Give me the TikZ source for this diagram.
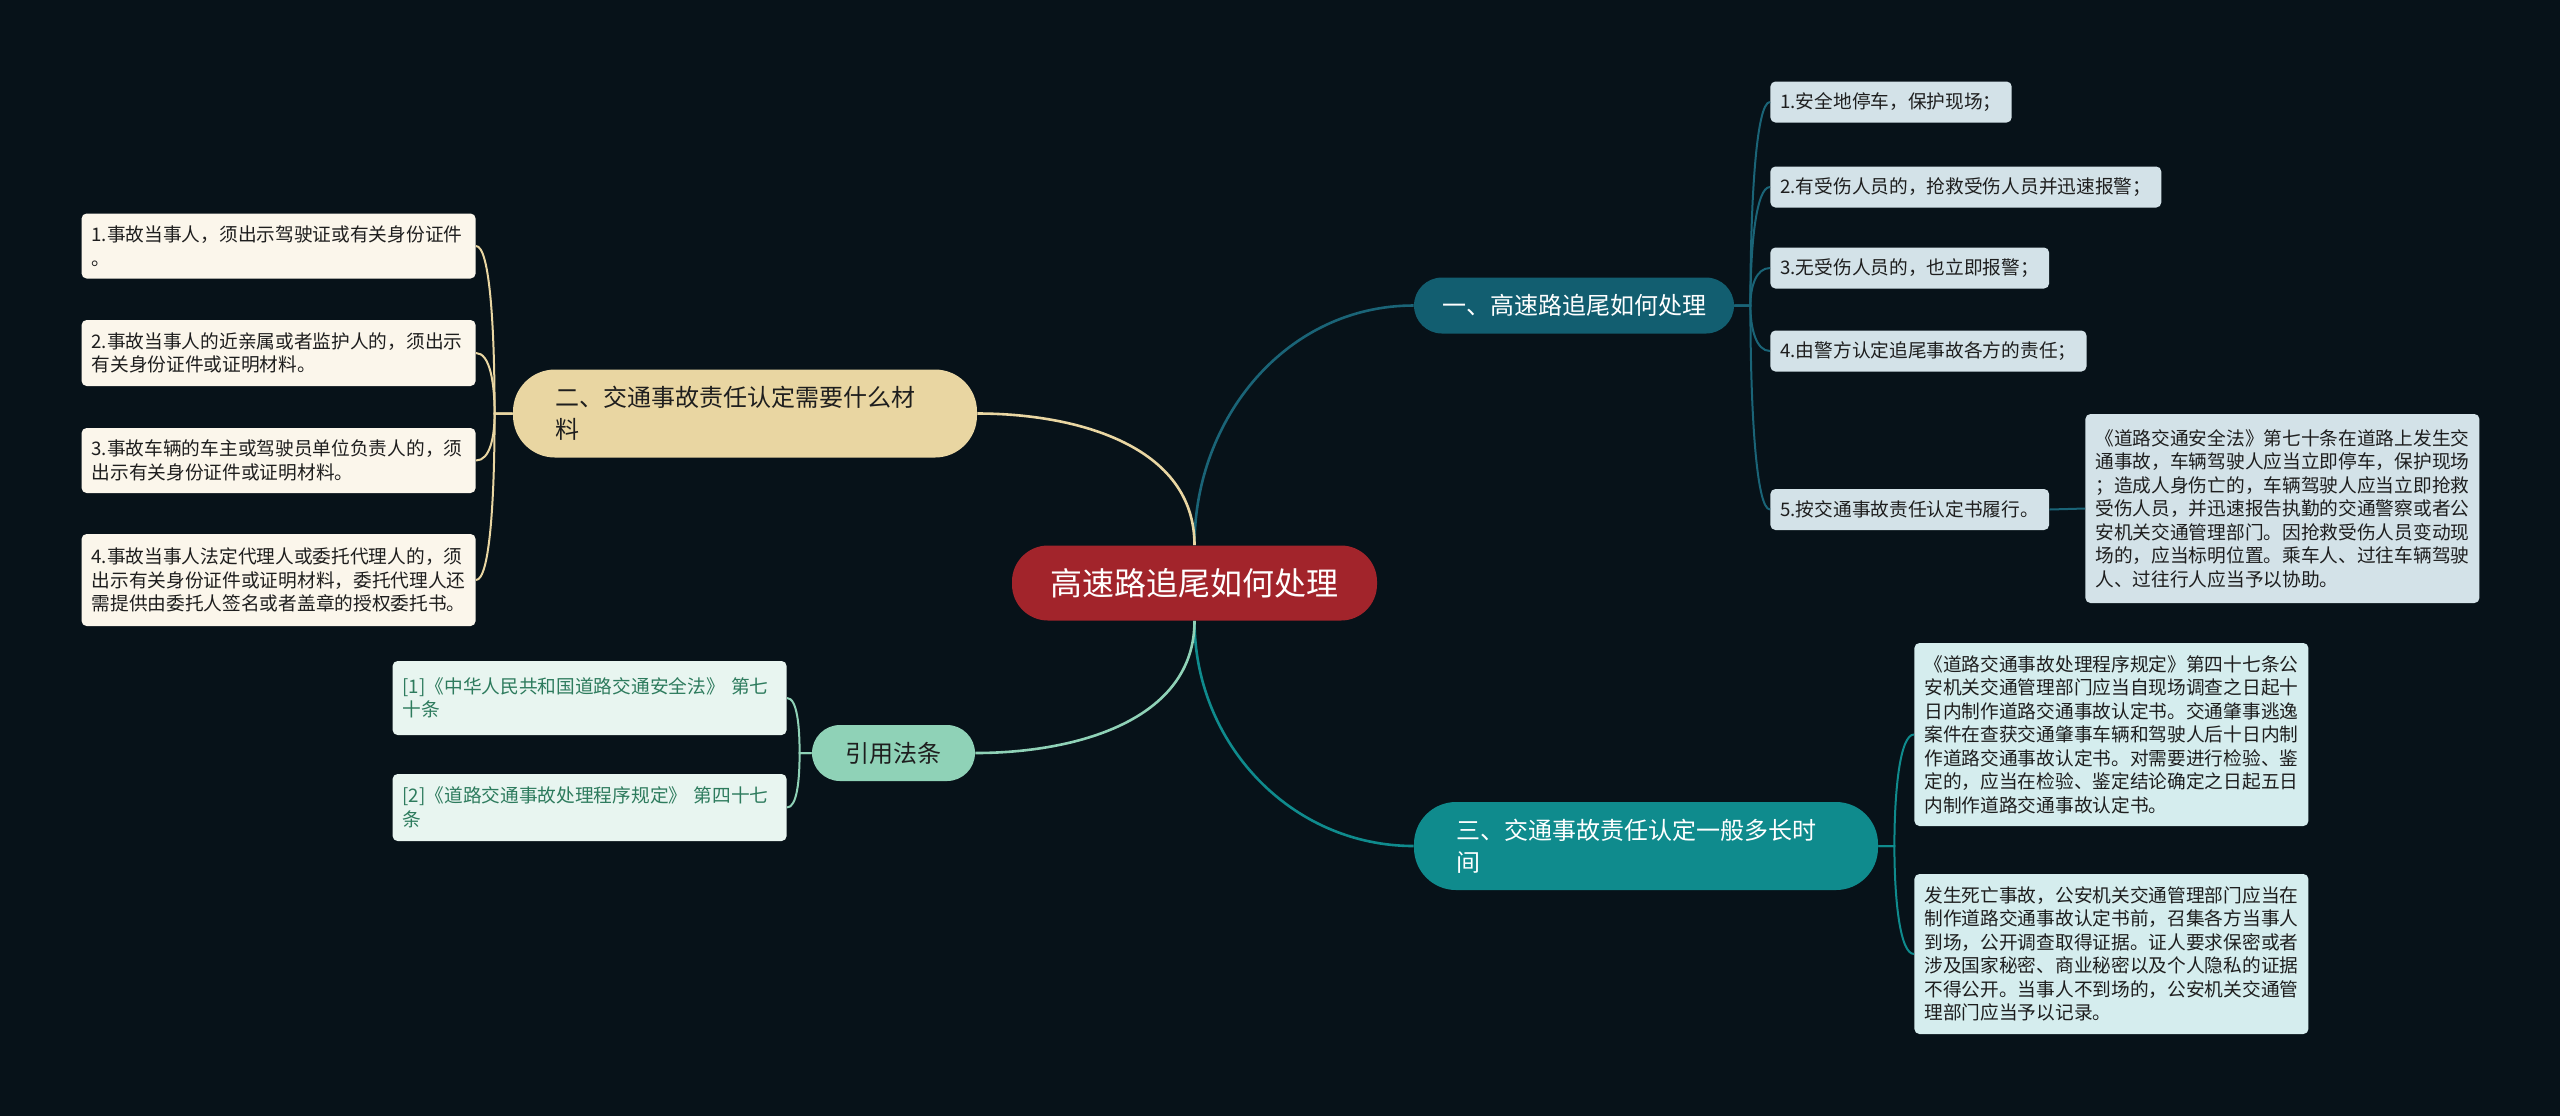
\documentclass[tikz,border=0pt]{standalone}
\usepackage{fontspec}
\setmainfont{Noto Sans CJK SC}
\usepackage{tikz}
\usepackage{xcolor}
\usetikzlibrary{calc}

\definecolor{bgc}{HTML}{071219}
\definecolor{rootc}{HTML}{A2242B}
\definecolor{c1}{HTML}{125E70}
\definecolor{c1e}{HTML}{1A6477}
\definecolor{c1l}{HTML}{D3E2E8}
\definecolor{c2}{HTML}{E9D6A2}
\definecolor{c2l}{HTML}{FBF6EB}
\definecolor{c3}{HTML}{0F8B8D}
\definecolor{c3l}{HTML}{D5EDEE}
\definecolor{c4}{HTML}{8FD2B7}
\definecolor{c4l}{HTML}{E8F5F0}
\definecolor{c4t}{HTML}{2D7B5D}
\definecolor{tx}{HTML}{1E1E1E}

\begin{document}
\begin{tikzpicture}[
  x=0.5pt, y=-0.5pt,
  topic/.style={rounded corners=18pt,fill=rootc,text=white,inner sep=0pt,
    minimum width=182.5pt,minimum height=37.5pt,font=\fontsize{16}{20}\selectfont},
  branch/.style={rounded corners=14pt,inner sep=0pt,minimum height=28pt,
    font=\fontsize{12}{15.8}\selectfont},
  wide/.style={branch,rounded corners=21pt,text width=190pt,align=left,
    minimum width=232pt,minimum height=44pt},
  leaf/.style={rounded corners=2.5pt,text=tx,inner xsep=5pt,inner ysep=0pt,
    minimum height=20.5pt,font=\fontsize{9.35}{11.75}\selectfont},
  note/.style={leaf,text width=187pt,align=left},
  spine/.style={to path={.. controls ($(\tikztostart)!0.5!(\tikztostart|-\tikztotarget)$)
    and ([xshift=#1]\tikztotarget) .. (\tikztotarget)}},
  e1/.style={c1e,line width=1.3pt},
  e2/.style={c2,line width=1.3pt},
  e3/.style={c3,line width=1.3pt},
  e4/.style={c4,line width=1.3pt},
  f1/.style={c1e,line width=1pt},
  f2/.style={c2,line width=1pt},
  f3/.style={c3,line width=1pt},
  f4/.style={c4,line width=1pt}
]
  \fill[bgc] (0,0) rectangle (2560,1116);
  \useasboundingbox (0,0) rectangle (2560,1116);

  \node[topic] (r) at (1194.5,583) {高速路追尾如何处理};
  \node[branch,fill=c1,text=white,minimum width=160pt] (a) at (1574,305.5) {一、高速路追尾如何处理};
  \node[wide,fill=c2,text=tx] (b) at (745,413.5) {二、交通事故责任认定需要什么材\\料};
  \node[wide,fill=c3,text=white] (c) at (1646,846) {三、交通事故责任认定一般多长时\\间};
  \node[branch,fill=c4,text=tx,minimum width=81.5pt] (d) at (893.5,753) {引用法条};

  \node[leaf,fill=c1l,anchor=west] (a1) at (1770,102) {1.安全地停车，保护现场；};
  \node[leaf,fill=c1l,anchor=west] (a2) at (1770,187) {2.有受伤人员的，抢救受伤人员并迅速报警；};
  \node[leaf,fill=c1l,anchor=west] (a3) at (1770,268) {3.无受伤人员的，也立即报警；};
  \node[leaf,fill=c1l,anchor=west] (a4) at (1770,351) {4.由警方认定追尾事故各方的责任；};
  \node[leaf,fill=c1l,anchor=west] (a5) at (1770,509.5) {5.按交通事故责任认定书履行。};
  \node[note,fill=c1l,minimum height=94.5pt,anchor=west] (a5n) at (2085,508.5) {《道路交通安全法》第七十条在道路上发生交\\通事故，车辆驾驶人应当立即停车，保护现场\\；造成人身伤亡的，车辆驾驶人应当立即抢救\\受伤人员，并迅速报告执勤的交通警察或者公\\安机关交通管理部门。因抢救受伤人员变动现\\场的，应当标明位置。乘车人、过往车辆驾驶\\人、过往行人应当予以协助。};

  \node[note,fill=c2l,minimum height=32.5pt,anchor=east] (b1) at (476,246) {1.事故当事人，须出示驾驶证或有关身份证件\\。};
  \node[note,fill=c2l,minimum height=33pt,anchor=east] (b2) at (476,353) {2.事故当事人的近亲属或者监护人的，须出示\\有关身份证件或证明材料。};
  \node[note,fill=c2l,minimum height=32.5pt,anchor=east] (b3) at (476,460.5) {3.事故车辆的车主或驾驶员单位负责人的，须\\出示有关身份证件或证明材料。};
  \node[note,fill=c2l,minimum height=46pt,anchor=east] (b4) at (476,580) {4.事故当事人法定代理人或委托代理人的，须\\出示有关身份证件或证明材料，委托代理人还\\需提供由委托人签名或者盖章的授权委托书。};

  \node[note,fill=c3l,minimum height=91.5pt,anchor=west] (c1) at (1914,734.5) {《道路交通事故处理程序规定》第四十七条公\\安机关交通管理部门应当自现场调查之日起十\\日内制作道路交通事故认定书。交通肇事逃逸\\案件在查获交通肇事车辆和驾驶人后十日内制\\作道路交通事故认定书。对需要进行检验、鉴\\定的，应当在检验、鉴定结论确定之日起五日\\内制作道路交通事故认定书。};
  \node[note,fill=c3l,minimum height=80pt,anchor=west] (c2) at (1914,954) {发生死亡事故，公安机关交通管理部门应当在\\制作道路交通事故认定书前，召集各方当事人\\到场，公开调查取得证据。证人要求保密或者\\涉及国家秘密、商业秘密以及个人隐私的证据\\不得公开。当事人不到场的，公安机关交通管\\理部门应当予以记录。};

  \node[note,fill=c4l,text=c4t,minimum height=37pt,anchor=east] (d1) at (787,698) {[1]《中华人民共和国道路交通安全法》 第七\\十条};
  \node[note,fill=c4l,text=c4t,minimum height=33.5pt,anchor=east] (d2) at (787,807.5) {[2]《道路交通事故处理程序规定》 第四十七\\条};

  \coordinate (aj) at ([xshift=8pt]a.east);
  \coordinate (bj) at ([xshift=-9pt]b.west);
  \coordinate (cj) at ([xshift=8pt]c.east);
  \coordinate (dj) at ([xshift=-6pt]d.west);

  \draw[e1] (r.north) to[out=90,in=180] (a.west);
  \draw[e2] (r.north) to[out=90,in=0] (b.east);
  \draw[e3] (r.south) to[out=270,in=180] (c.west);
  \draw[e4] (r.south) to[out=270,in=0] (d.east);

  \draw[f1] (a.east) -- (aj) to[spine=-7pt] (a1.west);
  \draw[f1] (a.east) -- (aj) to[spine=-7pt] (a2.west);
  \draw[f1] (a.east) -- (aj) to[spine=-7pt] (a3.west);
  \draw[f1] (a.east) -- (aj) to[spine=-7pt] (a4.west);
  \draw[f1] (a.east) -- (aj) to[spine=-7pt] (a5.west);
  \draw[f1] (a5.east) -- (a5n.west);

  \draw[f2] (b.west) -- (bj) to[spine=7pt] (b1.east);
  \draw[f2] (b.west) -- (bj) to[spine=7pt] (b2.east);
  \draw[f2] (b.west) -- (bj) to[spine=7pt] (b3.east);
  \draw[f2] (b.west) -- (bj) to[spine=7pt] (b4.east);

  \draw[f3] (c.east) -- (cj) to[spine=-7pt] (c1.west);
  \draw[f3] (c.east) -- (cj) to[spine=-7pt] (c2.west);

  \draw[f4] (d.west) -- (dj) to[spine=5pt] (d1.east);
  \draw[f4] (d.west) -- (dj) to[spine=5pt] (d2.east);
\end{tikzpicture}
\end{document}
